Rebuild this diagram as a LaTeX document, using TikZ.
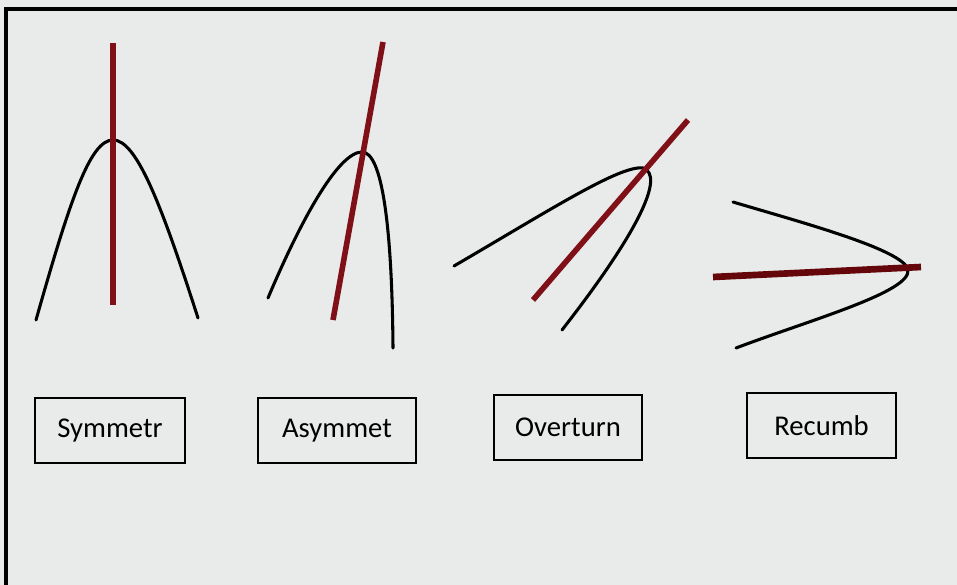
\documentclass[tikz,border=0pt]{standalone}
\usepackage{fontspec}
\setmainfont{Carlito}
\definecolor{paper}{RGB}{233,235,235}
\definecolor{axial}{RGB}{128,16,24}
\definecolor{axialdark}{RGB}{100,6,10}
\tikzset{
  limb/.style={line width=2.3pt, black, line cap=round},
  axis/.style={line width=4.2pt, axial},
  label/.style={draw=black, line width=1.4pt, fill=none, minimum height=49pt,
                font=\fontsize{21.5}{24}\selectfont, inner sep=0pt}
}
\begin{document}
\begin{tikzpicture}[x=0.75pt,y=-0.75pt]
  % canvas
  \fill[paper] (0,0) rectangle (957,585);
  \useasboundingbox (0,0) rectangle (957,585);
  % frame (left and top edges)
  \draw[line width=3pt, black] (6,585) -- (6,9) -- (957,9);

  % symmetric fold
  \coordinate (s1) at (36,320);
  \coordinate (sh) at (113,140);
  \coordinate (s2) at (198,318);
  \draw[limb] (s1) .. controls (70,200) and (90,140) .. (sh)
                   .. controls (136,140) and (160,200) .. (s2);
  \coordinate (sa) at (113,43);
  \coordinate (sb) at (113,305);
  \draw[axis] (sa) -- (sb);

  % asymmetric fold
  \coordinate (a1) at (268,298);
  \coordinate (ah) at (362,152);
  \coordinate (a2) at (393,348);
  \draw[limb] (a1) .. controls (300,222) and (338,152) .. (ah)
                   .. controls (382,152) and (392,225) .. (a2);
  \coordinate (aa) at (383,42);
  \coordinate (ab) at (333,320);
  \draw[axis] (aa) -- (ab);

  % overturned fold
  \coordinate (o1) at (454,266);
  \coordinate (oh) at (643,168);
  \coordinate (o2) at (562,330);
  \draw[limb] (o1) .. controls (550,210) and (620,165) .. (oh)
                   .. controls (665,175) and (640,230) .. (o2);
  \coordinate (oa) at (688,120);
  \coordinate (ob) at (533,300);
  \draw[axis] (oa) -- (ob);

  % recumbent fold
  \coordinate (r1) at (733,202);
  \coordinate (rh) at (908,270);
  \coordinate (r2) at (736,348);
  \draw[limb] (r1) .. controls (800,222) and (905,250) .. (rh)
                   .. controls (911,292) and (810,320) .. (r2);
  \coordinate (ra) at (713,277);
  \coordinate (rb) at (921,267);
  \draw[axis, axialdark, line width=5pt] (ra) -- (rb);

  % labels
  \node[label, minimum width=112pt] (lsym) at (110,430.5) {Symmetr};
  \node[label, minimum width=118pt] (lasy) at (337,430.5) {Asymmet};
  \node[label, minimum width=111pt] (lovr) at (568,427.5) {Overturn};
  \node[label, minimum width=112pt] (lrec) at (821.5,425.5) {Recumb};
\end{tikzpicture}
\end{document}
